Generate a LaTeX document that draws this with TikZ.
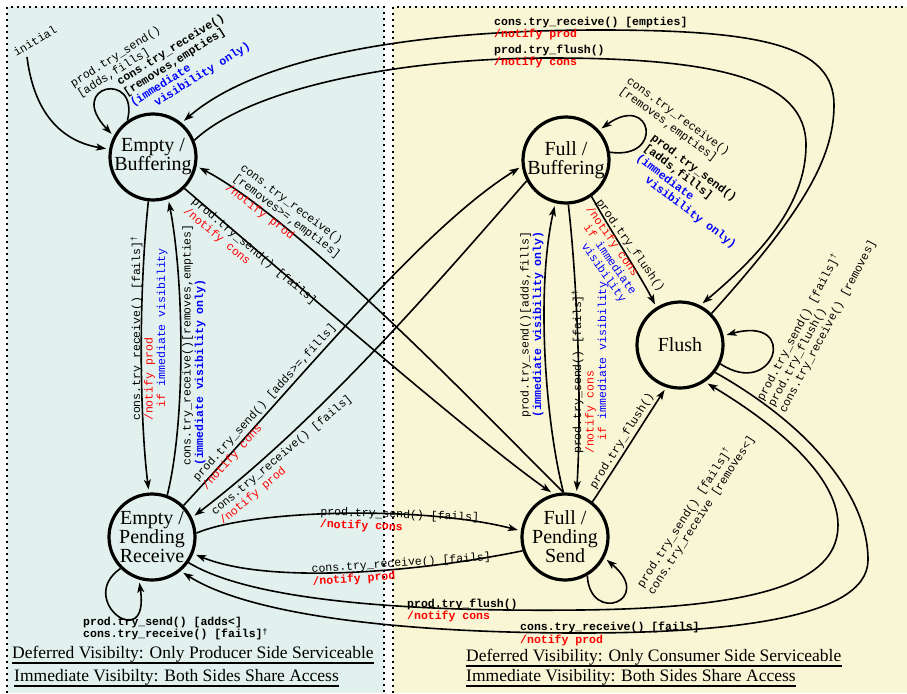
\documentclass[tikz,border=0pt]{standalone}
\usepackage{fontspec}
\setmainfont{Liberation Serif}
\newfontfamily\mono{Liberation Mono}
\usetikzlibrary{arrows.meta}
\definecolor{panelL}{RGB}{226,241,238}
\definecolor{panelR}{RGB}{248,246,212}
\definecolor{vblue}{RGB}{0,0,255}
\definecolor{vred}{RGB}{255,0,0}
\newcommand{\mydag}{\raisebox{0.6ex}{\fontsize{8}{8}\selectfont †}}
\begin{document}
\begin{tikzpicture}[x=1pt,y=-1pt,
  state/.style={draw, circle, line width=3.2pt, minimum size=86pt, inner sep=0pt, align=center, font=\fontsize{20}{19}\selectfont},
  edge/.style={line width=1.6pt, shorten >=3pt, -{Stealth[length=10pt,width=7pt,inset=2.5pt]}},
  lab/.style={font=\mono\fontsize{11.5}{12.5}\selectfont, inner sep=0pt, align=left},
  labb/.style={font=\mono\bfseries\fontsize{11.5}{12.5}\selectfont, inner sep=0pt, align=left},
  captxt/.style={font=\fontsize{17.5}{20}\selectfont, inner sep=0pt},
  capline/.style={line width=2pt},
  border/.style={line width=1.6pt, dash pattern=on 1.6pt off 4.4pt}
]
\useasboundingbox (0,0) rectangle (907,693);
% panels
\fill[panelL] (7,7) rectangle (384,693);
\fill[panelR] (393,7) rectangle (907,693);
\draw[border] (7,693) -- (7,7) -- (384,7) -- (384,693);
\draw[border] (393,693) -- (393,7) -- (907,7);

% states
\node[state] (eb) at (153,157) {Empty /\\Buffering};
\node[state] (fb) at (566,160) {Full /\\Buffering};
\node[state] (fl) at (680,345) {Flush};
\node[state] (epr) at (152,537) {Empty /\\Pending\\Receive};
\node[state] (fps) at (565,537) {Full /\\Pending\\Send};

% initial
\node[lab, rotate=31] (initlab) at (35,41) {initial};
\coordinate (initstart) at (27,57);
\draw[edge] (initstart) .. controls (33,105) and (55,140) .. (eb.170);

% Empty/Buffering self loop
\draw[edge] (eb.125) .. controls (140,70) and (65,85) .. (eb.152);
\node[lab, rotate=32, anchor=west] (lebl1) at (75,90) {prod.try\_send()\\{}[adds,fills]};
\node[labb, rotate=32, anchor=west] (lebl2) at (128,99) {cons.try\_receive()\\{}[removes,empties]\\{\color{vblue}(immediate}\\{\color{vblue}\hphantom{000}visibility only)}};

% top arcs
\draw[edge] (fl.45) .. controls (800,215) and (834,160) .. (834,105) .. controls (834,45) and (760,30) .. (600,30) .. controls (420,30) and (260,55) .. (eb.50);
\draw[edge] (eb.22) .. controls (250,88) and (400,58) .. (550,58) .. controls (720,58) and (806,80) .. (806,145) .. controls (806,205) and (760,255) .. (fl.63);
\node[labb, anchor=west] (ltop1) at (494,28.5) {cons.try\_receive() [empties]\\{\color{vred}/notify prod}};
\node[labb, anchor=west] (ltop2) at (494,56.5) {prod.try\_flush()\\{\color{vred}/notify cons}};

% Empty/Buffering <-> Empty/Pending Receive
\draw[edge] (eb.-96) .. controls (138,300) and (140,420) .. (epr.94);
\draw[edge] (epr.70) .. controls (186,420) and (184,280) .. (eb.-70);
\node[lab, rotate=90, anchor=west] (lv1) at (149,421) {cons.try\_receive() [fails]\mydag\\{\color{vred}/notify prod}\\\hphantom{00}{\color{vred}if} {\color{vblue}immediate visibility}};
\node[lab, rotate=90, anchor=west] (lv2) at (194,466) {cons.try\_receive()[removes,empties]\\{\color{vblue}\bfseries(immediate visibility only)}};

% diagonals
\draw[edge] (eb.-45) .. controls (280,270) and (480,443) .. (fps.105);
\draw[edge] (fps.92) .. controls (500,430) and (300,220) .. (eb.-12);
\draw[edge] (epr.45) .. controls (300,380) and (420,230) .. (fb.188);
\draw[edge] (fb.208) .. controls (440,280) and (320,420) .. (epr.26);
\node[lab, rotate=-40, anchor=west] (la) at (189,205) {prod.try\_send() [fails]\\{\color{vred}/notify cons}};
\node[lab, rotate=-37, anchor=west] (lb) at (234,177) {cons.try\_receive()\\{}[removes>=,empties]\\{\color{vred}/notify prod}};
\node[lab, rotate=48, anchor=west] (lc) at (200,484) {prod.try\_send() [adds>=,fills]\\{\color{vred}/notify cons}};
\node[lab, rotate=40, anchor=west] (ld) at (217,518) {cons.try\_receive() [fails]\\{\color{vred}/notify prod}};

% Full/Buffering self loop
\draw[edge] (fb.10) .. controls (665,160) and (652,92) .. (fb.42);
\node[lab, rotate=-36, anchor=west] (lfb1) at (624,85) {cons.try\_receive()\\{}[removes,empties]};
\node[labb, rotate=-37, anchor=west] (lfb2) at (641,152) {prod.try\_send()\\{}[adds,fills]\\{\color{vblue}(immediate}\\{\color{vblue}\hphantom{000}visibility only)}};

% Full/Buffering <-> Full/Pending Send
\draw[edge] (fps.92) .. controls (545,420) and (536,290) .. (fb.-104);
\draw[edge] (fb.-87) .. controls (577,280) and (582,400) .. (fps.75);
\node[lab, rotate=90, anchor=west] (lv3) at (532,418) {prod.try\_send()[adds,fills]\\{\color{vblue}\bfseries(immediate visibility only)}};
\node[lab, rotate=90, anchor=west] (lv4) at (590,454) {prod.try\_send() [fails]\mydag\\{\color{vred}/notify cons}\\\hphantom{00}{\color{vred}if} {\color{vblue}immediate visibility}};

% to Flush
\draw[edge] (fb.-55) .. controls (610,230) and (640,275) .. (fl.122);
\node[lab, rotate=-55, anchor=west] (lfl) at (583,211) {prod.try\_flush()\\{\color{vred}/notify cons}\\\hphantom{00}{\color{vred}if} {\color{vblue}immediate}\\\hphantom{0000}{\color{vblue}visibility}};
\draw[edge] (fps.52) .. controls (620,460) and (645,420) .. (fl.-108);
\node[lab, rotate=58] (lfl2) at (622,441) {prod.try\_flush()};

% Flush self loop
\draw[edge] (fl.-25) .. controls (775,400) and (800,315) .. (fl.12);
\node[lab, rotate=62, anchor=west] (lfll) at (771,406) {prod.try\_send() [fails]\mydag\\prod.try\_flush()\\cons.try\_receive() [removes]};

% Full/Pending Send self loop
\draw[edge] (fps.-60) .. controls (590,625) and (655,600) .. (fps.-28);
\node[lab, rotate=57, anchor=west] (lfpsl) at (645,590) {prod.try\_send() [fails]\mydag\\cons.try\_receive [removes<]};

% Empty/Pending Receive self loop
\draw[edge] (epr.225) .. controls (75,600) and (150,655) .. (epr.-107);
\node[labb, anchor=west] (leprl) at (83,628.5) {prod.try\_send() [adds<]\\cons.try\_receive() [fails]\mydag};

% bottom edges
\draw[edge] (epr.5) .. controls (250,510) and (420,505) .. (fps.172);
\draw[edge] (fps.198) .. controls (420,572) and (270,585) .. (epr.-22);
\draw[edge] (epr.-35) .. controls (250,600) and (400,612) .. (580,610) .. controls (780,608) and (838,575) .. (838,525) .. controls (838,470) and (760,415) .. (fl.-56);
\draw[edge] (fl.-38) .. controls (800,420) and (868,490) .. (868,560) .. controls (868,620) and (720,633) .. (580,633) .. controls (400,633) and (250,615) .. (epr.-50);
\node[lab, rotate=-2, anchor=west] (lbot1) at (320,518.5) {prod.try\_send() [fails]\\{\color{vred}\bfseries/notify cons}};
\node[lab, rotate=4, anchor=west] (lbot2) at (312,576) {cons.try\_receive() [fails]\\{\color{vred}\bfseries/notify prod}};
\node[labb, anchor=west] (lbot3) at (407,610.5) {prod.try\_flush()\\{\color{vred}/notify cons}};
\node[labb, anchor=west] (lbot4) at (520,634) {cons.try\_receive() [fails]\\{\color{vred}/notify prod}};

% captions
\node[captxt, anchor=base west] (c1) at (12,658) {Deferred Visibilty: Only Producer Side Serviceable};
\node[captxt, anchor=base west] (c2) at (14,681.5) {Immediate Visibilty: Both Sides Share Access};
\node[captxt, anchor=base west] (c3) at (466,661) {Deferred Visibility: Only Consumer Side Serviceable};
\node[captxt, anchor=base west] (c4) at (466,681) {Immediate Visibility: Both Sides Share Access};
\draw[capline] ([yshift=-4.5pt]c1.base west) -- ([yshift=-4.5pt]c1.base east);
\draw[capline] ([yshift=-4.5pt]c2.base west) -- ([yshift=-4.5pt]c2.base east);
\draw[capline] ([yshift=-4.5pt]c3.base west) -- ([yshift=-4.5pt]c3.base east);
\draw[capline] ([yshift=-4.5pt]c4.base west) -- ([yshift=-4.5pt]c4.base east);
\end{tikzpicture}
\end{document}
